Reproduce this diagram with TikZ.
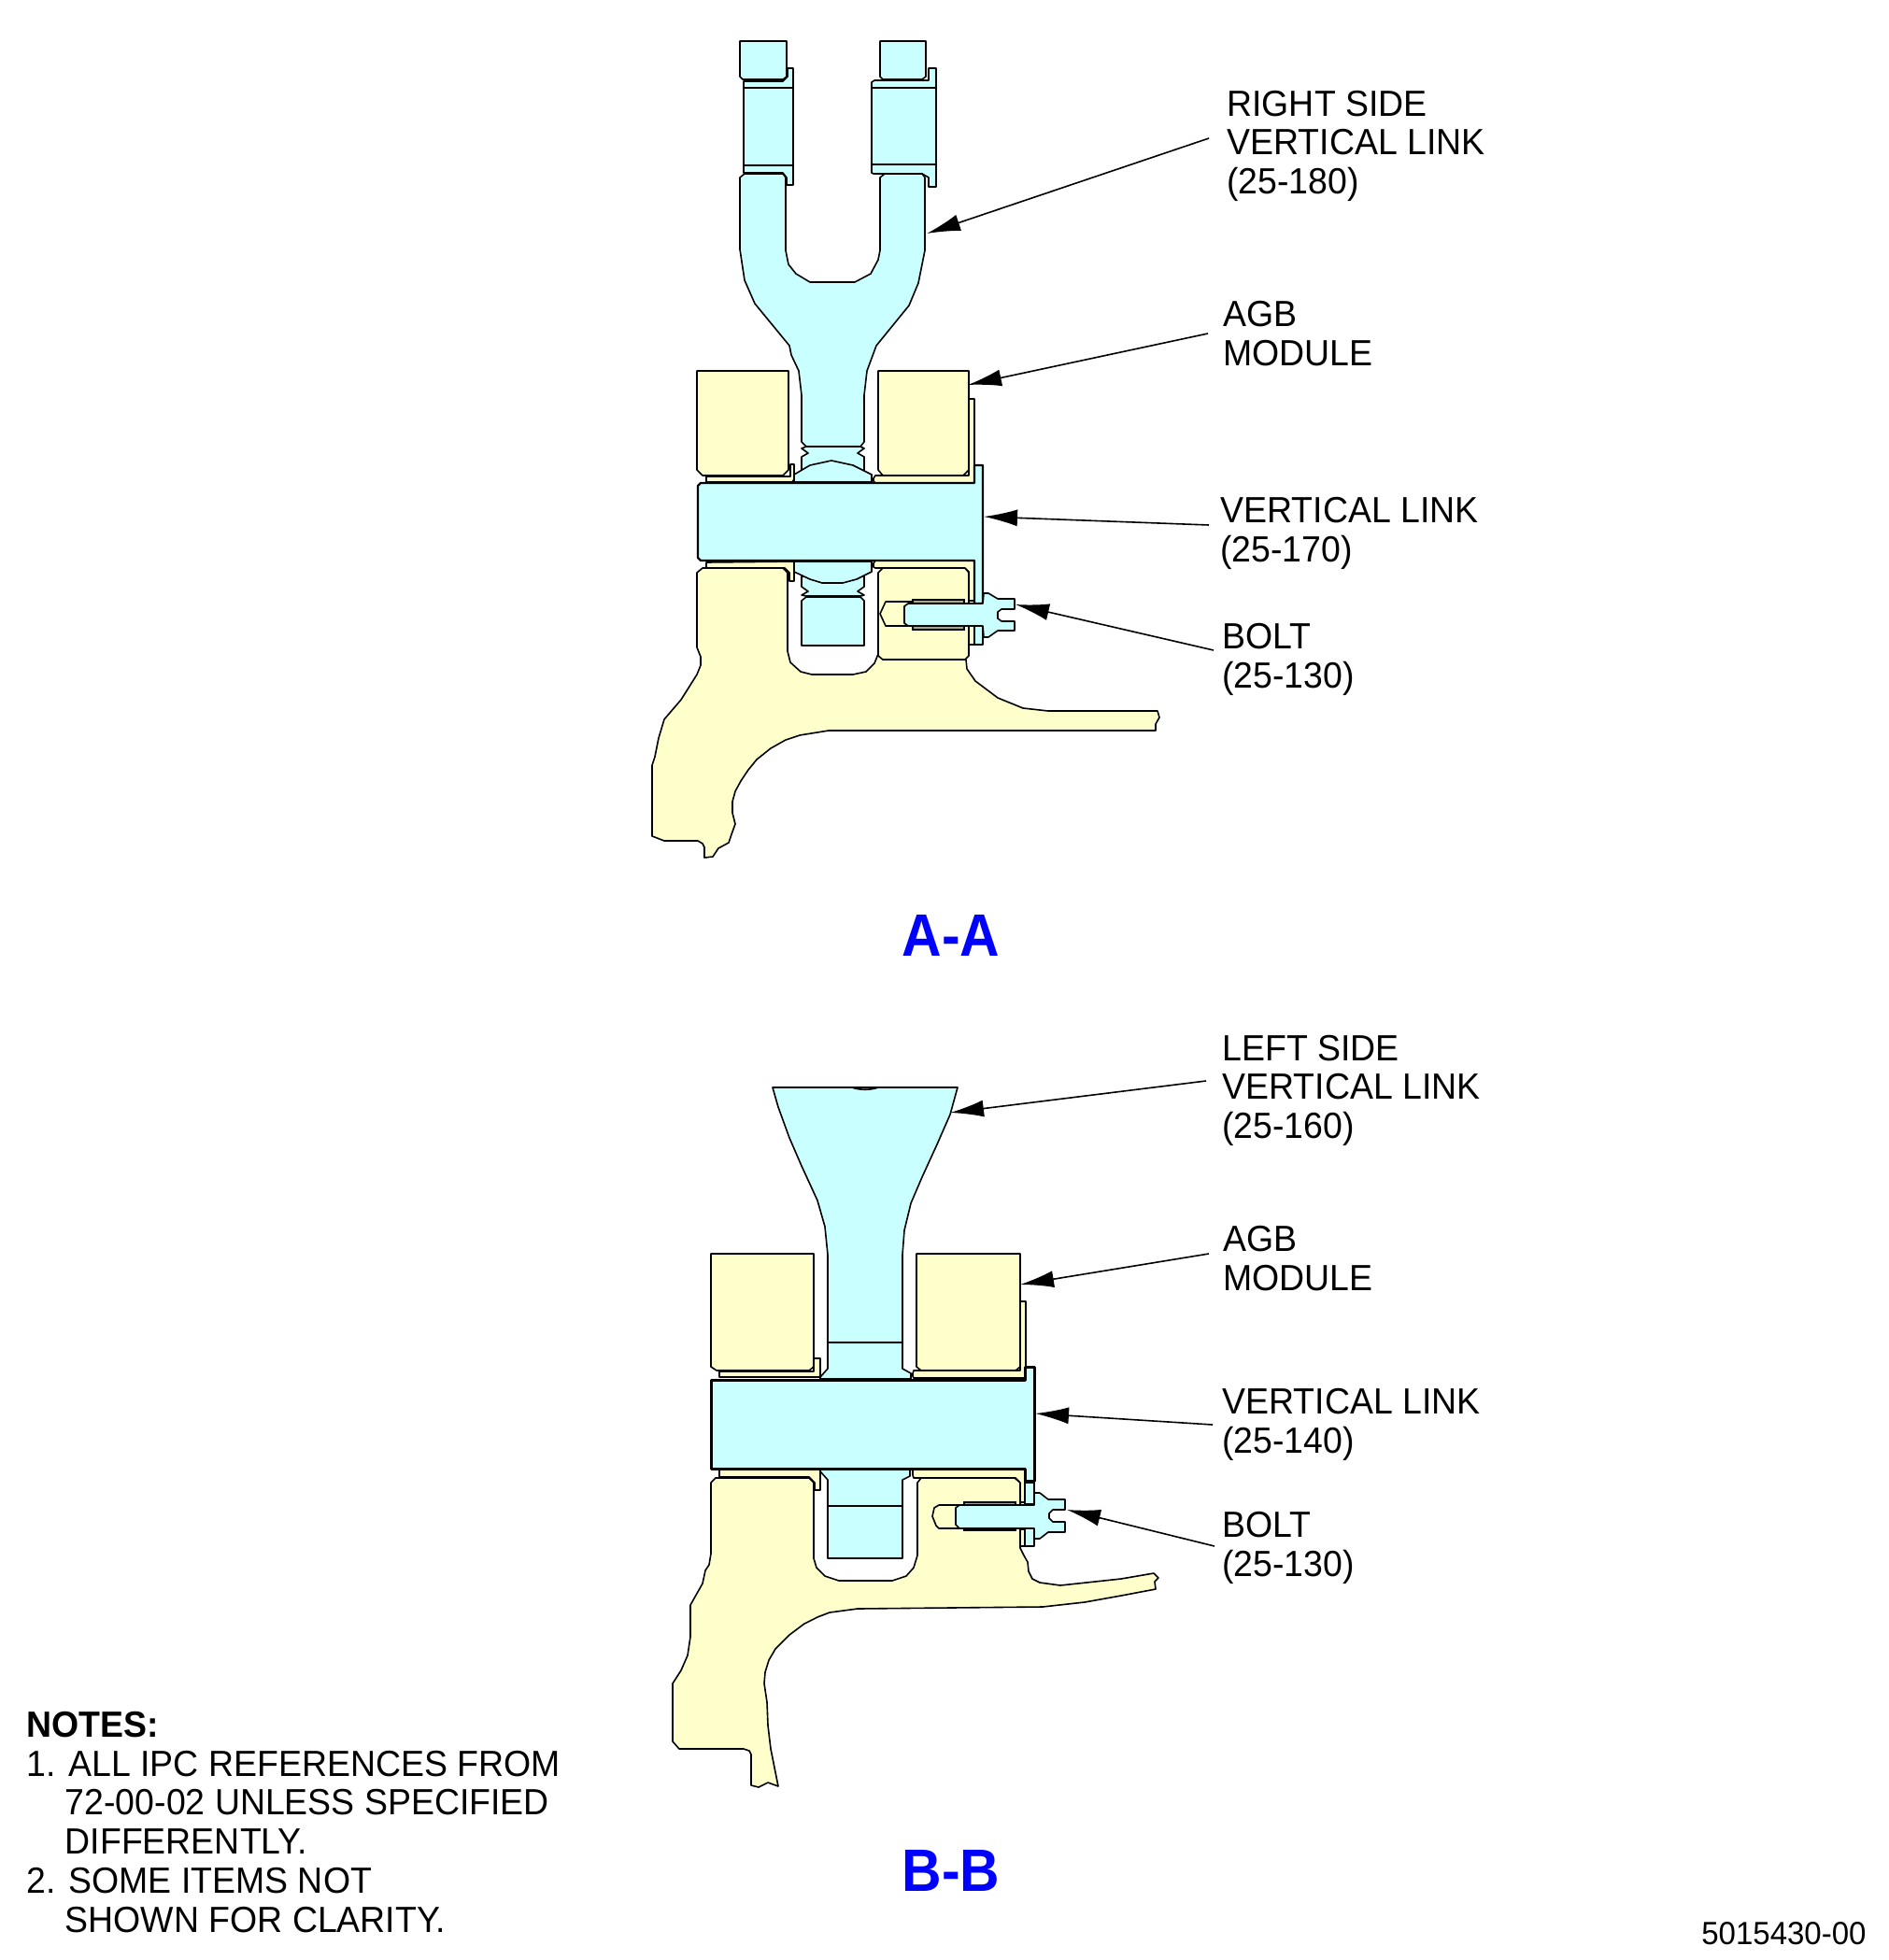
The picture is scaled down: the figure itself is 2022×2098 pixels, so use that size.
\documentclass[tikz,border=0pt]{standalone}
\usepackage{fontspec}
\setmainfont[FakeStretch=0.96]{Liberation Sans}
\newfontfamily\secfont[FakeStretch=0.92]{Liberation Sans}
\usetikzlibrary{arrows.meta}
\definecolor{partcyan}{HTML}{CAFFFF}
\definecolor{partyellow}{HTML}{FFFFCC}
\definecolor{threadgrey}{HTML}{A8A888}
\tikzset{
  cy/.style={fill=partcyan,draw=black,line width=0.8pt,line join=round},
  ye/.style={fill=partyellow,draw=black,line width=0.8pt,line join=round},
  linkbody/.style={fill=partcyan,draw=black,line width=1.1pt,line join=round},
  linkthick/.style={fill=partcyan,draw=black,line width=1.5pt,line join=round},
  thr/.style={fill=threadgrey,draw=black,line width=0.75pt},
  ruleline/.style={draw=black,line width=0.8pt},
  lead/.style={draw=black,line width=0.8pt,-{Latex[length=18pt,width=9pt,black]}},
  lbl/.style={anchor=base west,inner sep=0pt,align=left,font=\fontsize{19.5}{20.6}\selectfont},
  sect/.style={anchor=base,inner sep=0pt,text=blue,font=\secfont\fontsize{32}{36}\selectfont\bfseries},
}
\begin{document}
\begin{tikzpicture}[x=0.5pt,y=-0.5pt]
\useasboundingbox (0,0) rectangle (2022,2098);

% ===== A-A =====
% fork top pieces
\path[cy] (792,44)--(842,44)--(842,82)--(838,85)--(795,85)--(792,82)--cycle;
\path[cy] (942,44)--(991,44)--(991,82)--(987,85)--(945,85)--(942,82)--cycle;
\path[cy] (796,87)--(796,94)--(849,94)--(849,73)--(843,73)--(843,82)--(838,87)--cycle;
\path[cy] (796,94) rectangle (849,177);
\path[cy] (933,88)--(936,86)--(994,86)--(994,73)--(1002,73)--(1002,94)--(933,94)--cycle;
\path[cy] (933,94) rectangle (1002,176);
\path[cy] (796,177)--(796,185)--(838,185)--(842,190)--(842,198)--(849,198)--(849,177)--cycle;
\path[cy] (933,176)--(933,185)--(935,186)--(987,186)--(994,190)--(994,200)--(1002,200)--(1002,176)--cycle;
% fork body
\path[cy] (792,190)--(797,186)--(838,186)--(841,190)--(841,268)--(844,283)--(852,293)--(867,302)--(915,302)--(932,293)--(940,278)--(942,268)--(942,190)--(947,186)--(987,186)--(990,190)--(990,268)--(983,303)--(973,327)--(938,370)--(928,397)--(925,423)--(925,473)--(921,478)--(863,478)--(858,473)--(858,423)--(855,397)--(847,380)--(845,370)--(808,325)--(797,300)--(792,267)--cycle;
% neck and ball above link
\path[cy] (863,478)--(921,478)--(925,480)--(918,485)--(925,489)--(925,505)--(858,505)--(858,489)--(865,485)--(858,480)--cycle;
\path[cy] (850,516)--(850,508)--(867,498)--(890,493)--(913,498)--(933,508)--(933,516)--cycle;
% upper bushings and blocks
\path[ye] (756,510)--(756,516)--(848,516)--(850,513)--(850,497)--(846,497)--(846,510)--cycle;
\path[ye] (1037,427)--(1043,427)--(1043,517)--(937,517)--(935,515)--(935,512)--(937,509)--(1037,509)--cycle;
\path[ye] (746,397)--(844,397)--(844,503)--(838,509)--(752,509)--(746,503)--cycle;
\path[ye] (940,397)--(1037,397)--(1037,503)--(1031,509)--(945,509)--(940,503)--cycle;
% base casting
\path[ye] (746,613)--(752,608)--(838,608)--(843,613)--(843,697)--(846,709)--(857,719)--(869,722)--(913,722)--(927,719)--(936,710)--(940,700)--(945,706)--(1034,706)--(1035,716)--(1044,729)--(1068,747)--(1095,758)--(1122,761)--(1239,761)--(1241,768)--(1237,775)--(1237,782)--(887,782)--(856,787)--(841,792)--(825,801)--(810,813)--(801,824)--(793,836)--(787,847)--(784,858)--(784,870)--(787,882)--(783,893)--(780,902)--(769,908)--(763,917)--(754,918)--(754,907)--(752,903)--(747,900)--(711,900)--(698,895)--(698,819)--(701,810)--(705,790)--(711,770)--(729,749)--(746,722)--(750,712)--(750,703)--(746,693)--cycle;
% lower right block
\path[ye] (940,613)--(945,608)--(1033,608)--(1037,613)--(1037,702)--(1033,706)--(945,706)--(940,702)--cycle;
% lower pin
\path[cy] (858,617)--(925,617)--(925,628)--(918,633)--(925,637)--(921,638)--(863,638)--(858,637)--(865,633)--(858,628)--cycle;
\path[cy] (863,639)--(921,639)--(925,643)--(925,691)--(858,691)--(858,643)--cycle;
\path[cy] (850,601)--(850,612)--(867,620)--(880,624)--(902,624)--(917,620)--(933,612)--(933,601)--cycle;
% lower bushings
\path[ye] (756,602)--(756,608)--(840,608)--(845,613)--(845,622)--(850,622)--(850,601)--cycle;
\path[ye] (937,600)--(935,603)--(935,607)--(937,608)--(1033,608)--(1037,612)--(1037,643)--(1043,643)--(1043,600)--cycle;
% vertical link
\path[linkbody] (747,520)--(750,517)--(1043,517)--(1043,498)--(1052,498)--(1052,646)--(1043,646)--(1043,600)--(750,600)--(747,597)--cycle;
% bolt
\path[ye] (977,644)--(948,644)--(942,657)--(948,670)--(977,670);
\path[ye] (1037,670) rectangle (1043,690);
\path[cy] (1043,670) rectangle (1052,690);
\path[thr] (977,642) rectangle (1032,646);
\path[thr] (977,670) rectangle (1032,674);
\path[cy] (972,646)--(1052,646)--(1053,635)--(1058,635)--(1068,641)--(1086,641)--(1086,652)--(1072,652)--(1068,655)--(1068,662)--(1072,665)--(1086,665)--(1086,675)--(1068,675)--(1058,682)--(1053,682)--(1052,670)--(972,670)--(968,667)--(968,649)--cycle;

% ===== B-B =====
% funnel and shaft
\path[cy] (827,1164)--(1025,1164)--(1017,1193)--(1003,1225)--(987,1260)--(975,1288)--(968,1317)--(966,1343)--(966,1465)--(975,1470)--(975,1476)--(878,1476)--(878,1474)--(886,1465)--(886,1343)--(883,1313)--(875,1285)--(858,1248)--(845,1218)--(833,1185)--cycle;
\draw[ruleline] (912,1164) .. controls (920,1167) and (932,1167) .. (940,1164);
\draw[ruleline] (886,1437)--(966,1437);
% upper bushings and blocks
\path[ye] (770,1468)--(770,1474)--(877,1474)--(878,1472)--(878,1454)--(871,1454)--(871,1468)--cycle;
\path[ye] (977,1470)--(978,1467)--(1092,1467)--(1092,1393)--(1098,1393)--(1098,1475)--(978,1475)--(977,1473)--cycle;
\path[ye] (761,1342)--(871,1342)--(871,1463)--(866,1467)--(767,1467)--(761,1463)--cycle;
\path[ye] (981,1342)--(1092,1342)--(1092,1463)--(1087,1467)--(986,1467)--(981,1463)--cycle;
% base casting
\path[ye] (761,1587)--(766,1582)--(866,1582)--(871,1587)--(871,1668)--(874,1678)--(883,1687)--(898,1692)--(955,1692)--(970,1687)--(978,1678)--(982,1665)--(982,1587)--(986,1582)--(1086,1582)--(1092,1587)--(1092,1657)--(1096,1665)--(1100,1672)--(1101,1682)--(1105,1690)--(1113,1694)--(1135,1697)--(1200,1690)--(1235,1684)--(1240,1689)--(1236,1693)--(1237,1701)--(1200,1708)--(1161,1715)--(1116,1720)--(918,1722)--(888,1726)--(875,1731)--(861,1738)--(845,1750)--(830,1765)--(823,1777)--(819,1790)--(818,1802)--(821,1822)--(822,1847)--(825,1872)--(833,1912)--(822,1908)--(812,1913)--(804,1911)--(804,1878)--(802,1874)--(796,1872)--(727,1872)--(720,1864)--(720,1802)--(729,1788)--(736,1772)--(739,1752)--(739,1718)--(752,1695)--(755,1681)--(759,1675)--(761,1663)--cycle;
% shaft below link
\path[cy] (878,1575)--(886,1584)--(886,1668)--(966,1668)--(966,1584)--(974,1580)--(974,1573)--(878,1573)--cycle;
\draw[ruleline] (886,1612)--(966,1612);
% lower bushings
\path[ye] (770,1575)--(770,1581)--(866,1581)--(872,1587)--(872,1595)--(878,1595)--(878,1573)--(770,1573)--cycle;
\path[ye] (977,1573)--(977,1579)--(978,1582)--(1087,1582)--(1092,1587)--(1092,1608)--(1097,1608)--(1097,1572)--cycle;
% vertical link
\path[linkthick] (761,1477)--(1097,1477)--(1097,1463)--(1107,1463)--(1107,1585)--(1097,1585)--(1097,1572)--(761,1572)--cycle;
% bolt
\path[ye] (1027,1611)--(1005,1611)--(1000,1614)--(998,1623)--(1002,1633)--(1005,1636)--(1027,1636);
\path[cy] (1097,1587) rectangle (1107,1610);
\path[ye] (1092,1637) rectangle (1097,1655);
\path[cy] (1097,1636) rectangle (1107,1655);
\path[thr] (1032,1608) rectangle (1087,1611);
\path[thr] (1032,1635) rectangle (1087,1638);
\path[cy] (1027,1611)--(1107,1611)--(1107,1598)--(1113,1598)--(1122,1605)--(1140,1605)--(1140,1616)--(1127,1616)--(1123,1620)--(1123,1625)--(1127,1629)--(1140,1629)--(1140,1640)--(1122,1640)--(1113,1647)--(1107,1647)--(1107,1636)--(1027,1636)--(1023,1632)--(1023,1614)--cycle;

% ===== labels =====
\node[lbl] (lrs) at (1313,207) {RIGHT SIDE\\VERTICAL LINK\\(25-180)};
\node[lbl] (lagba) at (1309,391) {AGB\\MODULE};
\node[lbl] (lvla) at (1306,601) {VERTICAL LINK\\(25-170)};
\node[lbl] (lbolta) at (1308,736) {BOLT\\(25-130)};
\node[lbl] (lls) at (1308,1218) {LEFT SIDE\\VERTICAL LINK\\(25-160)};
\node[lbl] (lagbb) at (1309,1381) {AGB\\MODULE};
\node[lbl] (lvlb) at (1308,1555) {VERTICAL LINK\\(25-140)};
\node[lbl] (lboltb) at (1308,1687) {BOLT\\(25-130)};
\node[sect] (secA) at (1018,1023) {A-A};
\node[sect] (secB) at (1018,2024) {B-B};
\node[anchor=base west,inner sep=0pt,align=left,font=\fontsize{19.5}{20.85}\selectfont] (notes) at (28,2068) {\textbf{NOTES:}\\1. ALL IPC REFERENCES FROM\\\hspace*{20.7pt}72-00-02 UNLESS SPECIFIED\\\hspace*{20.7pt}DIFFERENTLY.\\2. SOME ITEMS NOT\\\hspace*{20.7pt}SHOWN FOR CLARITY.};
\node[anchor=base east,inner sep=0pt,font=\fontsize{17.2}{18}\selectfont] (docno) at (1998,2081) {5015430-00};

% ===== leaders =====
\coordinate (s1) at (1294,148); \coordinate (t1) at (992,250);
\coordinate (s2) at (1293,357); \coordinate (t2) at (1036,412);
\coordinate (s3) at (1294,562); \coordinate (t3) at (1053,553);
\coordinate (s4) at (1299,696); \coordinate (t4) at (1087,647);
\coordinate (s5) at (1291,1157); \coordinate (t5) at (1017,1191);
\coordinate (s6) at (1294,1342); \coordinate (t6) at (1092,1375);
\coordinate (s7) at (1298,1525); \coordinate (t7) at (1108,1513);
\coordinate (s8) at (1300,1655); \coordinate (t8) at (1142,1616);
\foreach \n in {1,...,8} { \draw[lead] (s\n) -- (t\n); }
\end{tikzpicture}
\end{document}
